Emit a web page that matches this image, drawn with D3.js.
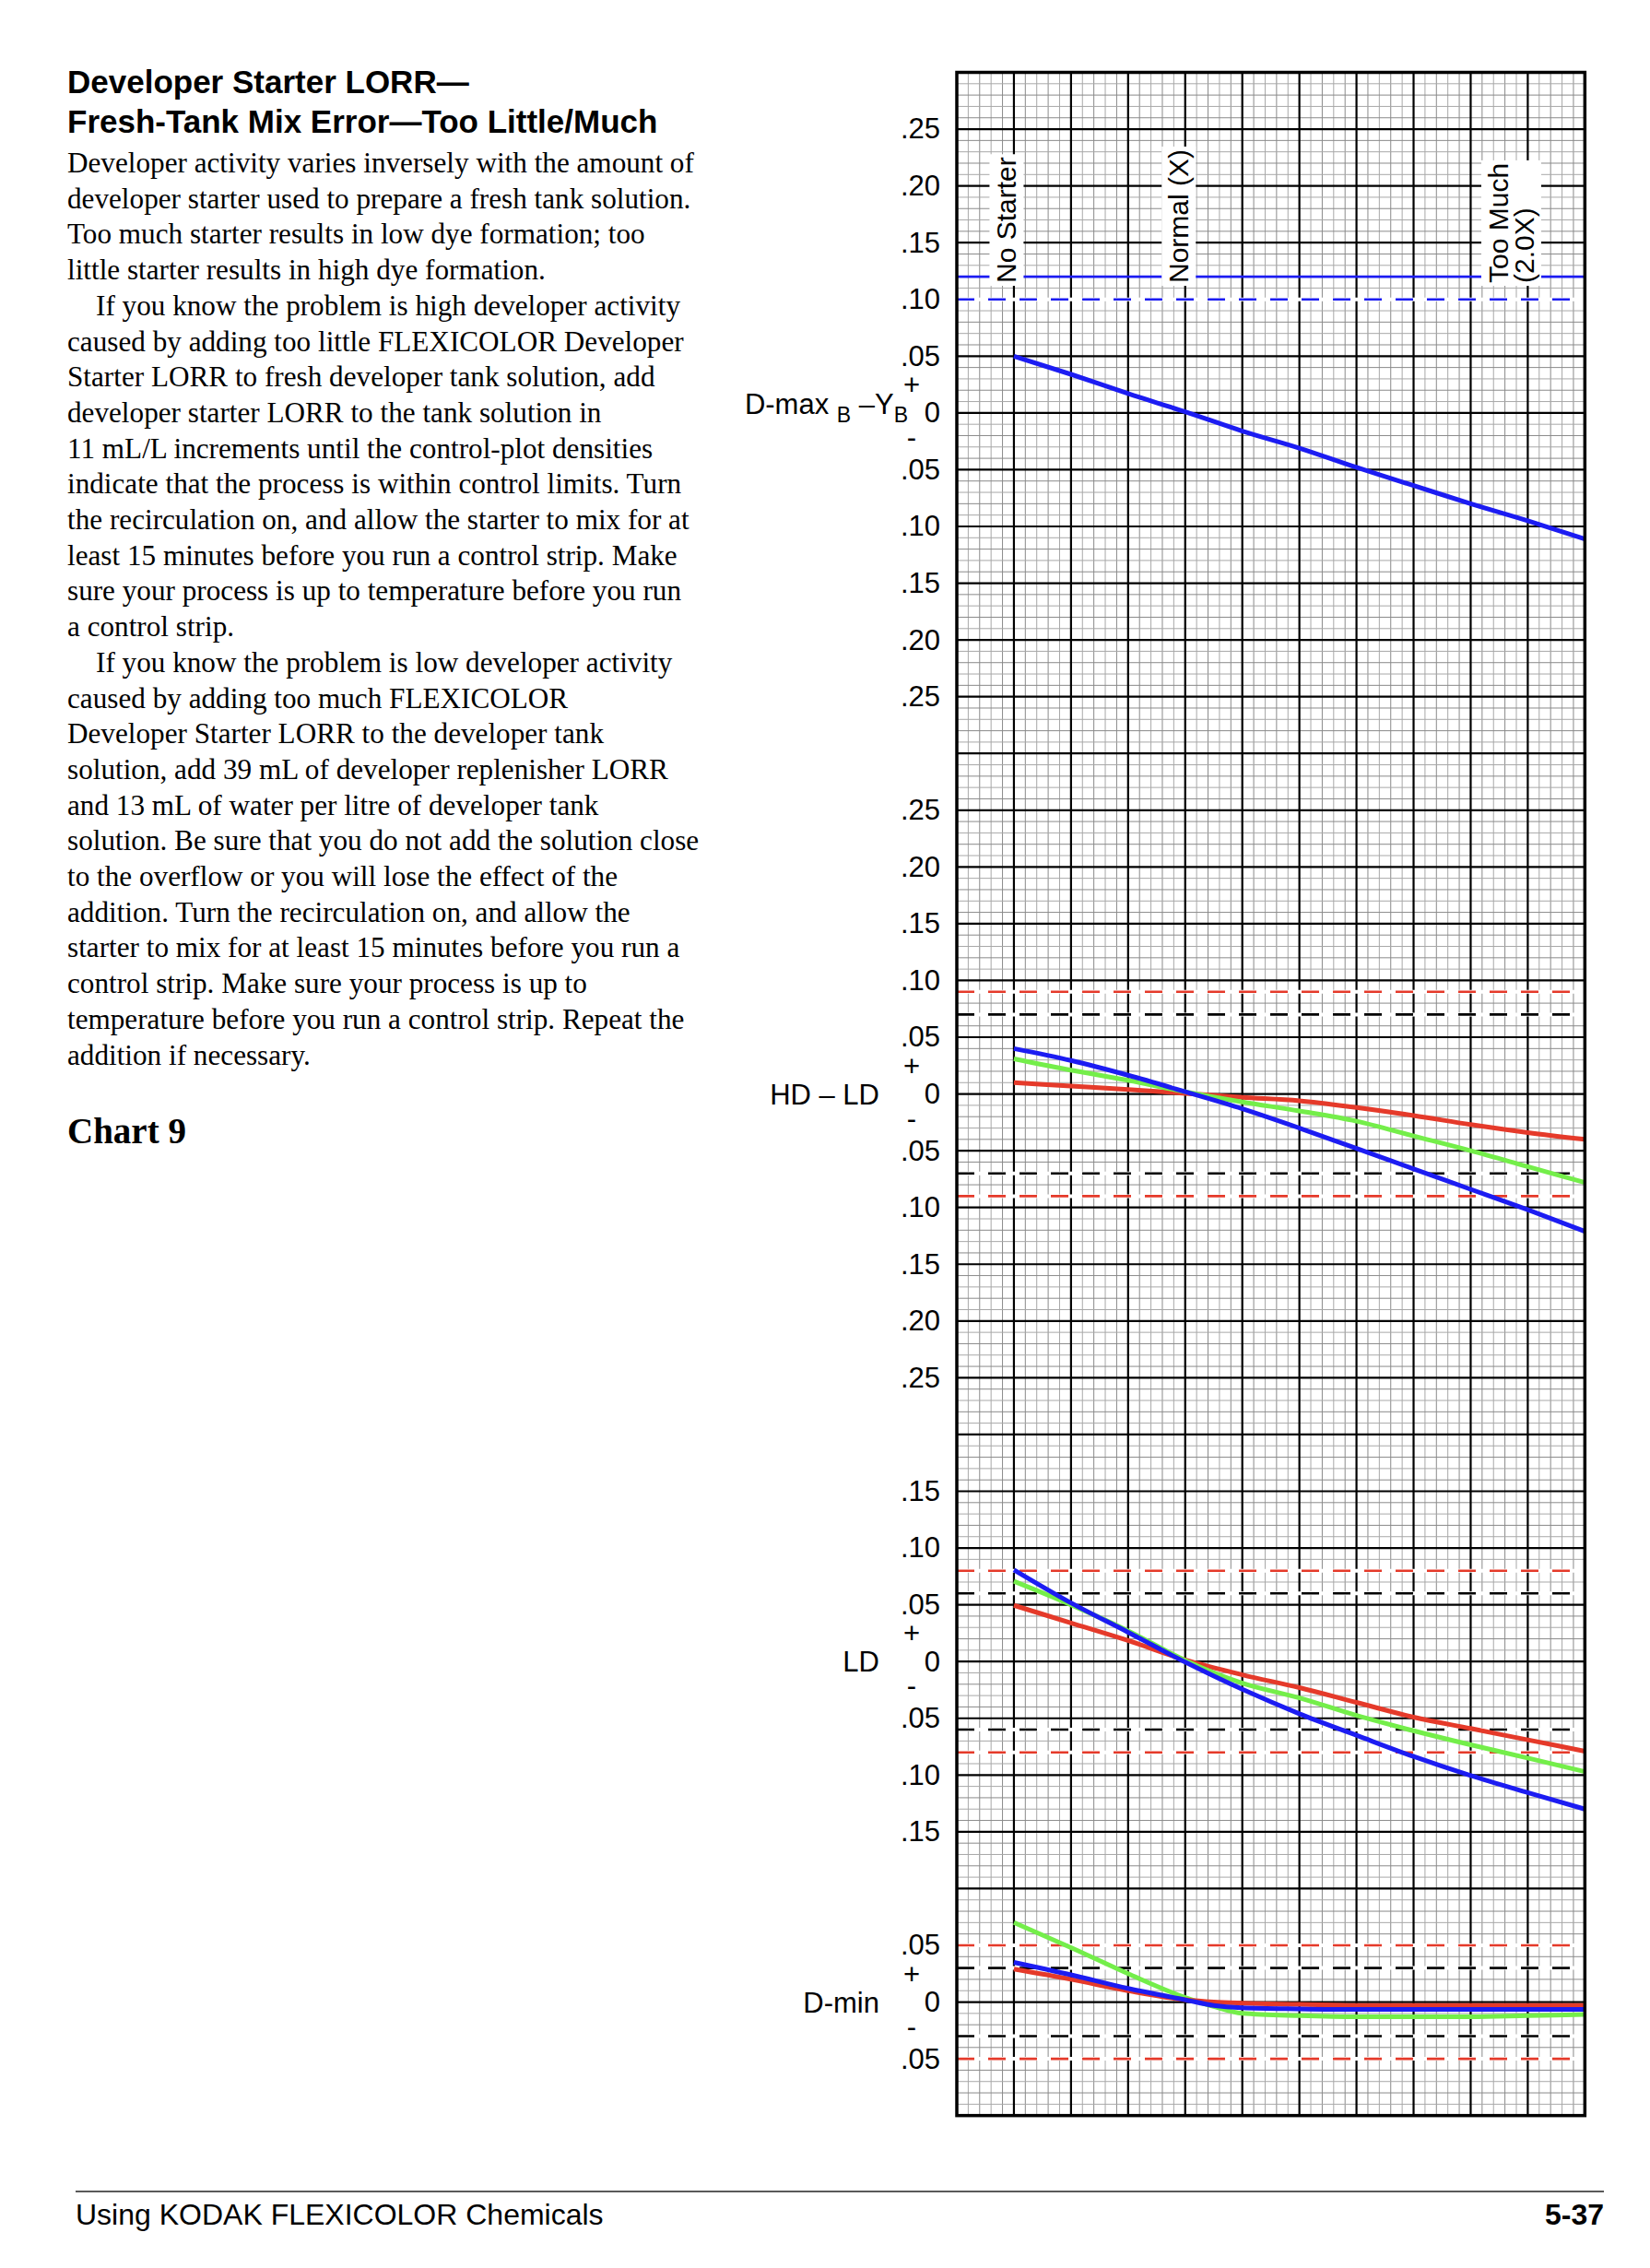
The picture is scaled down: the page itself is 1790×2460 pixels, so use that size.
<!DOCTYPE html>
<html>
<head>
<meta charset="utf-8">
<script src="https://cdn.jsdelivr.net/npm/d3@7"></script>
<style>
  body { margin: 0; background: #fff; }
</style>
</head>
<body>
<div id="playground"></div>
<script>
// ---
// Data

var titleLines = ['Developer Starter LORR\u2014', 'Fresh-Tank Mix Error\u2014Too Little/Much']

var paragraphs = [
  ['Developer activity varies inversely with the amount of',
   'developer starter used to prepare a fresh tank solution.',
   'Too much starter results in low dye formation; too',
   'little starter results in high dye formation.'],
  ['If you know the problem is high developer activity',
   'caused by adding too little FLEXICOLOR Developer',
   'Starter LORR to fresh developer tank solution, add',
   'developer starter LORR to the tank solution in',
   '11 mL/L increments until the control-plot densities',
   'indicate that the process is within control limits. Turn',
   'the recirculation on, and allow the starter to mix for at',
   'least 15 minutes before you run a control strip. Make',
   'sure your process is up to temperature before you run',
   'a control strip.'],
  ['If you know the problem is low developer activity',
   'caused by adding too much FLEXICOLOR',
   'Developer Starter LORR to the developer tank',
   'solution, add 39 mL of developer replenisher LORR',
   'and 13 mL of water per litre of developer tank',
   'solution. Be sure that you do not add the solution close',
   'to the overflow or you will lose the effect of the',
   'addition. Turn the recirculation on, and allow the',
   'starter to mix for at least 15 minutes before you run a',
   'control strip. Make sure your process is up to',
   'temperature before you run a control strip. Repeat the',
   'addition if necessary.']
]

var chartName = 'Chart 9'
var footerLeft = 'Using KODAK FLEXICOLOR Chemicals'
var footerRight = '5-37'

// Starter level categories, placed on grid columns
var categories = [['No Starter'], ['Normal (X)'], ['Too Much', '(2.0X)']]
var categoryCols = [1, 4, 9]

// Panels (top to bottom)
var panelLabels = ['D-max', 'HD \u2013 LD', 'LD', 'D-min']
var panelRanges = [0.25, 0.25, 0.15, 0.05]

// x positions of the read values (grid columns)
var xs = [1, 2, 3, 4, 5, 6, 7, 8, 9, 10, 11]
var xsDmin = [1, 2, 3, 4, 4.5, 5, 6, 7, 8, 9, 10, 11]

// D-max B - Y B
var dmaxBlue = [0.050, 0.034, 0.017, 0.001, -0.016, -0.031, -0.048, -0.064, -0.080, -0.095, -0.111]
var dmaxUpperSolid = 0.12
var dmaxUpperDashed = 0.10

// HD - LD
var hdldRed = [0.010, 0.007, 0.004, 0.0005, -0.003, -0.006, -0.012, -0.019, -0.027, -0.034, -0.040]
var hdldGreen = [0.031, 0.021, 0.012, 0.002, -0.007, -0.015, -0.024, -0.037, -0.050, -0.064, -0.078]
var hdldBlue = [0.040, 0.0295, 0.0165, 0.002, -0.013, -0.030, -0.048, -0.066, -0.084, -0.102, -0.121]
var hdldRedLimit = 0.09
var hdldBlackLimit = 0.07

// LD
var ldRed = [0.0495, 0.034, 0.0185, 0.0014, -0.0117, -0.023, -0.036, -0.049, -0.059, -0.069, -0.079]
var ldGreen = [0.0707, 0.050, 0.027, 0.001, -0.019, -0.032, -0.0475, -0.061, -0.0734, -0.085, -0.097]
var ldBlue = [0.0807, 0.0516, 0.0258, -0.0005, -0.0245, -0.046, -0.065, -0.0837, -0.1005, -0.1155, -0.130]
var ldRedLimit = 0.08
var ldBlackLimit = 0.06

// D-min
var dminRed = [0.029, 0.020, 0.010, 0.002, 0.000, -0.001, -0.002, -0.003, -0.003, -0.003, -0.003, -0.003]
var dminGreen = [0.070, 0.048, 0.025, 0.004, -0.004, -0.010, -0.012, -0.013, -0.013, -0.013, -0.012, -0.011]
var dminBlue = [0.035, 0.024, 0.012, 0.002, -0.003, -0.005, -0.006, -0.0065, -0.0065, -0.0065, -0.0065, -0.0065]
var dminRedLimit = 0.05
var dminBlackLimit = 0.03

// ---
// Settings

var settings = {}
settings.width = 1790
settings.height = 2460
settings.sans = 'Liberation Sans, Arial, Helvetica, sans-serif'
settings.serif = 'Liberation Serif, Times New Roman, serif'

// Chart grid
settings.left = 1038
settings.top = 78.5
settings.cols = 11
settings.rows = 36
settings.cw = 61.94
settings.ch = 61.56
settings.zeroRows = [6, 18, 28, 34]

settings.colors = { red: '#e53a2a', green: '#74ee4a', blue: '#1c1cf2', black: '#000' }
settings.series_width = 5
settings.limit_width = 2.6
settings.dash = '19,15'

// --- (end of settings)

var svg = d3.select('#playground').append('svg')
  .attr('width', settings.width)
  .attr('height', settings.height)

svg.append('rect')
  .attr('width', settings.width)
  .attr('height', settings.height)
  .attr('fill', '#fff')

// ---
// Left text column

titleLines.forEach(function(t, i){
  svg.append('text')
    .attr('x', 73)
    .attr('y', 101 + i * 42.6)
    .attr('font-family', settings.sans)
    .attr('font-weight', 'bold')
    .attr('font-size', 35)
    .text(t)
})

var lineIndex = 0
paragraphs.forEach(function(p, pi){
  p.forEach(function(t, li){
    svg.append('text')
      .attr('x', (pi > 0 && li === 0) ? 104 : 73)
      .attr('y', 187 + lineIndex * 38.7)
      .attr('font-family', settings.serif)
      .attr('font-size', 31.2)
      .text(t)
    lineIndex++
  })
})

svg.append('text')
  .attr('x', 73)
  .attr('y', 1240)
  .attr('font-family', settings.serif)
  .attr('font-weight', 'bold')
  .attr('font-size', 39)
  .text(chartName)

// Footer
svg.append('line')
  .attr('x1', 82).attr('x2', 1740)
  .attr('y1', 2377).attr('y2', 2377)
  .attr('stroke', '#222')
  .attr('stroke-width', 1.5)

svg.append('text')
  .attr('x', 82)
  .attr('y', 2413)
  .attr('font-family', settings.sans)
  .attr('font-size', 32)
  .text(footerLeft)

svg.append('text')
  .attr('x', 1740)
  .attr('y', 2413)
  .attr('text-anchor', 'end')
  .attr('font-family', settings.sans)
  .attr('font-weight', 'bold')
  .attr('font-size', 32)
  .text(footerRight)

// ---
// Chart

var x = d3.scaleLinear()
  .domain([0, settings.cols])
  .range([settings.left, settings.left + settings.cols * settings.cw])

var row = d3.scaleLinear()
  .domain([0, settings.rows])
  .range([settings.top, settings.top + settings.rows * settings.ch])

var chart = svg.append('g')

// Minor grid
var minor = chart.append('g')
  .attr('stroke-width', 1)

d3.range(0, settings.cols * 5 + 1).filter(function(i){ return i % 5 }).forEach(function(i){
  minor.append('line')
    .attr('x1', x(i / 5)).attr('x2', x(i / 5))
    .attr('y1', row(0)).attr('y2', row(settings.rows))
    .attr('stroke', i % 2 ? '#a8a8a8' : '#8a8a8a')
})
d3.range(0, settings.rows * 5 + 1).filter(function(i){ return i % 5 }).forEach(function(i){
  minor.append('line')
    .attr('x1', x(0)).attr('x2', x(settings.cols))
    .attr('y1', row(i / 5)).attr('y2', row(i / 5))
    .attr('stroke', i % 2 ? '#a8a8a8' : '#8a8a8a')
})

// Major grid
var major = chart.append('g')
  .attr('stroke', '#000')
  .attr('stroke-width', 2.2)

d3.range(1, settings.cols).forEach(function(i){
  major.append('line')
    .attr('x1', x(i)).attr('x2', x(i))
    .attr('y1', row(0)).attr('y2', row(settings.rows))
})
d3.range(1, settings.rows).forEach(function(i){
  major.append('line')
    .attr('x1', x(0)).attr('x2', x(settings.cols))
    .attr('y1', row(i)).attr('y2', row(i))
})

// Panels built from the named arrays
var panels = [
  {
    series: [{ xs: xs, ys: dmaxBlue, color: 'blue' }],
    limits: [
      { v: dmaxUpperSolid, color: 'blue', dashed: false },
      { v: dmaxUpperDashed, color: 'blue', dashed: true }
    ]
  },
  {
    series: [
      { xs: xs, ys: hdldRed, color: 'red' },
      { xs: xs, ys: hdldGreen, color: 'green' },
      { xs: xs, ys: hdldBlue, color: 'blue' }
    ],
    limits: [
      { v: hdldRedLimit, color: 'red', dashed: true }, { v: -hdldRedLimit, color: 'red', dashed: true },
      { v: hdldBlackLimit, color: 'black', dashed: true }, { v: -hdldBlackLimit, color: 'black', dashed: true }
    ]
  },
  {
    series: [
      { xs: xs, ys: ldRed, color: 'red' },
      { xs: xs, ys: ldGreen, color: 'green' },
      { xs: xs, ys: ldBlue, color: 'blue' }
    ],
    limits: [
      { v: ldRedLimit, color: 'red', dashed: true }, { v: -ldRedLimit, color: 'red', dashed: true },
      { v: ldBlackLimit, color: 'black', dashed: true }, { v: -ldBlackLimit, color: 'black', dashed: true }
    ]
  },
  {
    series: [
      { xs: xsDmin, ys: dminGreen, color: 'green' },
      { xs: xsDmin, ys: dminRed, color: 'red' },
      { xs: xsDmin, ys: dminBlue, color: 'blue' }
    ],
    limits: [
      { v: dminRedLimit, color: 'red', dashed: true }, { v: -dminRedLimit, color: 'red', dashed: true },
      { v: dminBlackLimit, color: 'black', dashed: true }, { v: -dminBlackLimit, color: 'black', dashed: true }
    ]
  }
]

var fmt = d3.format('.2f')

panels.forEach(function(p, pi){
  var zr = settings.zeroRows[pi]
  var y = d3.scaleLinear()
    .domain([0, -0.05])
    .range([row(zr), row(zr + 1)])
  var y0 = y(0)

  // Limit lines (white underlay hides the grid in the gaps)
  p.limits.forEach(function(l){
    if (l.dashed) {
      chart.append('line')
        .attr('x1', x(0)).attr('x2', x(settings.cols))
        .attr('y1', y(l.v)).attr('y2', y(l.v))
        .attr('stroke', '#fff')
        .attr('stroke-width', 4)
    }
    chart.append('line')
      .attr('x1', x(0)).attr('x2', x(settings.cols))
      .attr('y1', y(l.v)).attr('y2', y(l.v))
      .attr('stroke', settings.colors[l.color])
      .attr('stroke-width', settings.limit_width)
      .attr('stroke-dasharray', l.dashed ? settings.dash : null)
  })

  // Series
  var line = d3.line()
    .x(function(d){ return x(d[0]) })
    .y(function(d){ return y(d[1]) })
    .curve(d3.curveMonotoneX)

  p.series.forEach(function(s){
    chart.append('path')
      .attr('d', line(d3.zip(s.xs, s.ys)))
      .attr('fill', 'none')
      .attr('stroke', settings.colors[s.color])
      .attr('stroke-width', settings.series_width)
      .attr('stroke-linecap', 'butt')
  })

  // Tick labels
  var n = Math.round(panelRanges[pi] / 0.05)
  var ticks = d3.range(-n, n + 1).map(function(k){ return k * 0.05 })
  var axis = chart.append('g')
    .attr('transform', 'translate(' + x(0) + ',0)')
    .call(d3.axisLeft(y)
      .tickValues(ticks)
      .tickSize(0)
      .tickPadding(18)
      .tickFormat(function(v){ return Math.abs(v) < 1e-9 ? '0' : fmt(Math.abs(v)).slice(1) }))
    .attr('font-family', settings.sans)
    .attr('font-size', 31)
  axis.select('.domain').remove()
  axis.selectAll('text').attr('fill', '#000')

  // + / - signs
  chart.append('text')
    .attr('x', 989).attr('y', y0 - 20)
    .attr('text-anchor', 'middle')
    .attr('font-family', settings.sans)
    .attr('font-size', 31)
    .text('+')
  chart.append('text')
    .attr('x', 989).attr('y', y0 + 37)
    .attr('text-anchor', 'middle')
    .attr('font-family', settings.sans)
    .attr('font-size', 31)
    .text('-')

  // Panel label
  var lab = chart.append('text')
    .attr('text-anchor', 'end')
    .attr('font-family', settings.sans)
    .attr('font-size', 31)
  if (pi === 0) {
    lab.attr('x', 985).attr('y', y0 + 1)
    lab.append('tspan').text(panelLabels[pi] + ' ')
    lab.append('tspan').attr('font-size', 23).attr('dy', 9).text('B')
    lab.append('tspan').attr('dy', -9).text(' \u2013Y')
    lab.append('tspan').attr('font-size', 23).attr('dy', 9).text('B')
  } else {
    lab.attr('x', 954).attr('y', y0 + 11).text(panelLabels[pi])
  }
})

// Chart border
chart.append('rect')
  .attr('x', x(0)).attr('y', row(0))
  .attr('width', x(settings.cols) - x(0))
  .attr('height', row(settings.rows) - row(0))
  .attr('fill', 'none')
  .attr('stroke', '#000')
  .attr('stroke-width', 3.5)

// Category labels (rotated, on white boxes)
var labelOffsets = [-8, -7, 30]
categories.forEach(function(lines, ci){
  var g = chart.append('g')
    .attr('transform', 'translate(' + (x(categoryCols[ci]) + labelOffsets[ci]) + ',307) rotate(-90)')
  var box = g.append('rect').attr('fill', '#fff')
  var t = g.append('text')
    .attr('font-family', settings.sans)
    .attr('font-size', 30)
  lines.forEach(function(l, li){
    t.append('tspan')
      .attr('x', 0)
      .attr('dy', li === 0 ? '0.35em' : 28)
      .text(l)
  })
  var b = t.node().getBBox()
  box.attr('x', b.x - 3).attr('y', b.y - 2)
    .attr('width', b.width + 6).attr('height', b.height + 4)
})
</script>
</body>
</html>
